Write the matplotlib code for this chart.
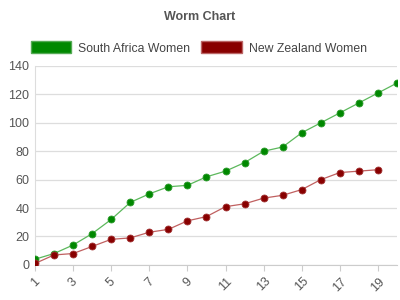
import matplotlib.pyplot as plt
from matplotlib.patches import Patch

overs = list(range(1, 21))
sa_runs = [4, 8, 14, 22, 32, 44, 50, 55, 56, 62, 66, 72, 80, 83, 93, 100, 107, 114, 121, 128]
nz_overs = list(range(1, 20))
nz_runs = [1, 7, 8, 13, 18, 19, 23, 25, 31, 34, 41, 43, 47, 49, 53, 60, 65, 66, 67]
y_ticks = [0, 20, 40, 60, 80, 100, 120, 140]
x_ticks = list(range(1, 20, 2))

plt.rcParams['font.family'] = ['Liberation Sans', 'DejaVu Sans']

fig = plt.figure(figsize=(4, 3), dpi=100)
ax = fig.add_axes([0.0875, 0.117, 0.905, 0.663])

ax.plot(overs, sa_runs, color='#5cb85c', lw=0.9, marker='o', ms=5,
        mfc='#008800', mec='#2a9a2a', mew=0.6, zorder=3)
ax.plot(nz_overs, nz_runs, color='#c06060', lw=0.9, marker='o', ms=5,
        mfc='#880000', mec='#a03030', mew=0.6, zorder=3)

ax.set_xlim(1, 20)
ax.set_ylim(0, 140)
ax.set_yticks(y_ticks)
ax.set_xticks(x_ticks)
ax.tick_params(axis='y', length=0, labelsize=9, colors='#555555', pad=4)
ax.tick_params(axis='x', length=4, color='#cccccc', labelsize=9, colors='#555555')
for lbl in ax.get_xticklabels():
    lbl.set_rotation(45)
    lbl.set_ha('center')
    lbl.set_va('top')
ax.grid(axis='y', color='#dddddd', lw=0.9)
for s in ['top', 'right']:
    ax.spines[s].set_visible(False)
ax.spines['left'].set_color('#dddddd')
ax.spines['bottom'].set_color('#cccccc')

fig.text(0.5, 0.942, 'Worm Chart', ha='center', va='center',
         fontsize=9, fontweight='bold', color='#555555')

handles = [Patch(facecolor='#008800', edgecolor='#55aa55', label='South Africa Women'),
           Patch(facecolor='#880000', edgecolor='#bb6666', label='New Zealand Women')]
fig.legend(handles=handles, loc='center', bbox_to_anchor=(0.4975, 0.84), ncol=2,
           frameon=False, fontsize=8.8, handlelength=3.3, handleheight=1.1,
           columnspacing=0.9, handletextpad=0.6, labelcolor='#444444')

fig.savefig('out.png', dpi=100)
